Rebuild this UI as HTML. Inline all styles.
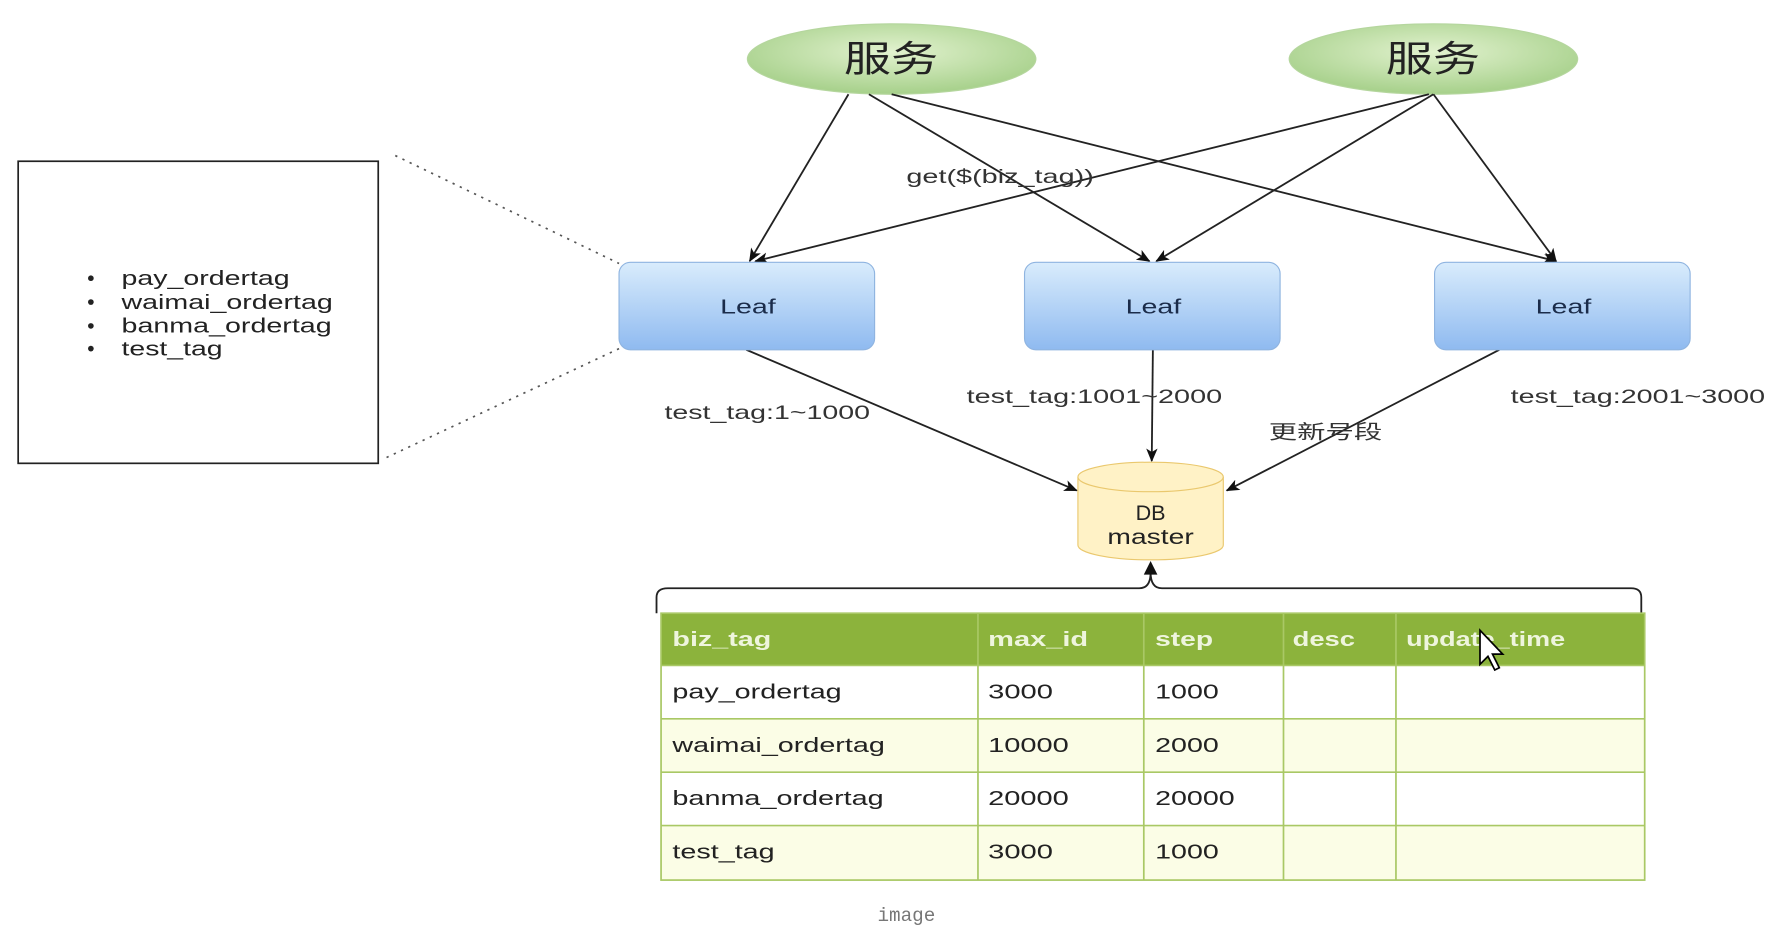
<!DOCTYPE html>
<html><head><meta charset="utf-8"><style>
html,body{margin:0;padding:0;background:#fff;width:1781px;height:938px;overflow:hidden}
svg{display:block}
text{font-family:"Liberation Sans","Noto Sans CJK SC",sans-serif}
</style></head><body>
<svg width="1781" height="938" viewBox="0 0 1568 826" preserveAspectRatio="none" xmlns="http://www.w3.org/2000/svg">
<defs>
<linearGradient id="g" x1="0" y1="0" x2="0" y2="1"><stop offset="0" stop-color="#d9ecfc"/><stop offset="1" stop-color="#8fbaf0"/></linearGradient>
<radialGradient id="e" cx="0.5" cy="0.4" r="0.6"><stop offset="0" stop-color="#e2f2cf"/><stop offset="1" stop-color="#a6d08a"/></radialGradient>
<marker id="a" markerWidth="12" markerHeight="10" refX="11" refY="5" orient="auto" markerUnits="userSpaceOnUse"><path d="M0,0 L12,5 L0,10 L3,5 z" fill="#111"/></marker>
</defs>
<ellipse cx="785" cy="52" rx="127" ry="31" fill="url(#e)" stroke="#b5d69e"/>
<ellipse cx="1262" cy="52" rx="127" ry="31" fill="url(#e)" stroke="#b5d69e"/>
<text x="743" y="63" font-size="32" textLength="83" lengthAdjust="spacingAndGlyphs" fill="#222">服务</text>
<text x="1220" y="63" font-size="32" textLength="83" lengthAdjust="spacingAndGlyphs" fill="#222">服务</text>
<g stroke="#222" stroke-width="1.6" fill="none" marker-end="url(#a)">
<line x1="747" y1="83" x2="660" y2="230"/>
<line x1="765" y1="83" x2="1012" y2="230"/>
<line x1="785" y1="83" x2="1370" y2="230"/>
<line x1="1258" y1="83" x2="665" y2="230"/>
<line x1="1262" y1="83" x2="1018" y2="230"/>
<line x1="1262" y1="83" x2="1370" y2="230"/>
<line x1="657" y1="308" x2="948" y2="432"/>
<line x1="1015" y1="308" x2="1014" y2="406"/>
<line x1="1320" y1="308" x2="1080" y2="432"/>
</g>
<g lengthAdjust="spacingAndGlyphs">
<text x="798" y="161" font-size="17" fill="#333" textLength="165" lengthAdjust="spacingAndGlyphs">get($(biz_tag))</text>
</g>
<rect x="16" y="142" width="317" height="266" fill="#fff" stroke="#222" stroke-width="1.5"/>
<g font-size="18" fill="#222">
<circle cx="80" cy="245" r="2.5"/><text x="107" y="251" textLength="148" lengthAdjust="spacingAndGlyphs">pay_ordertag</text>
<circle cx="80" cy="266" r="2.5"/><text x="107" y="272" textLength="186" lengthAdjust="spacingAndGlyphs">waimai_ordertag</text>
<circle cx="80" cy="287" r="2.5"/><text x="107" y="293" textLength="185" lengthAdjust="spacingAndGlyphs">banma_ordertag</text>
<circle cx="80" cy="307" r="2.5"/><text x="107" y="313" textLength="89" lengthAdjust="spacingAndGlyphs">test_tag</text>
</g>
<g stroke="#555" stroke-width="1.5" stroke-dasharray="2,5"><line x1="348" y1="137" x2="545" y2="232"/><line x1="545" y1="307" x2="340" y2="403"/></g>
<g fill="url(#g)" stroke="#8fb4e0">
<rect x="545" y="231" width="225" height="77" rx="10"/>
<rect x="902" y="231" width="225" height="77" rx="10"/>
<rect x="1263" y="231" width="225" height="77" rx="10"/>
</g>
<g font-size="18" fill="#1b2c4a">
<text x="634" y="276" textLength="49" lengthAdjust="spacingAndGlyphs">Leaf</text><text x="991" y="276" textLength="49" lengthAdjust="spacingAndGlyphs">Leaf</text><text x="1352" y="276" textLength="49" lengthAdjust="spacingAndGlyphs">Leaf</text>
</g>
<g font-size="17" fill="#333">
<text x="585" y="369" textLength="181" lengthAdjust="spacingAndGlyphs">test_tag:1~1000</text>
<text x="851" y="355" textLength="225" lengthAdjust="spacingAndGlyphs">test_tag:1001~2000</text>
<text x="1330" y="355" textLength="224" lengthAdjust="spacingAndGlyphs">test_tag:2001~3000</text>
<text x="1117" y="386" textLength="100" lengthAdjust="spacingAndGlyphs">更新号段</text>
</g>
<path d="M949,420 A64,13 0 0 1 1077,420 L1077,480 A64,13 0 0 1 949,480 Z" fill="#fff2c6" stroke="#eac86e"/>
<path d="M949,420 A64,13 0 0 0 1077,420" fill="none" stroke="#eac86e"/>
<text x="1013" y="458" font-size="19" text-anchor="middle" fill="#222">DB</text>
<text x="1013" y="479" font-size="19" text-anchor="middle" fill="#222" textLength="76" lengthAdjust="spacingAndGlyphs">master</text>
<path d="M578,540 L578,526 Q578,518 588,518 L1003,518 Q1013,518 1013,504 Q1013,518 1023,518 L1436,518 Q1445,518 1445,526 L1445,540" fill="none" stroke="#222" stroke-width="1.6"/>
<path d="M1007,506 L1013,494 L1019,506 Z" fill="#111"/>
<rect x="582" y="540" width="866" height="46" fill="#8cb33c"/>
<rect x="582" y="586" width="866" height="47" fill="#fff"/>
<rect x="582" y="633" width="866" height="47" fill="#fbfde6"/>
<rect x="582" y="680" width="866" height="47" fill="#fff"/>
<rect x="582" y="727" width="866" height="48" fill="#fbfde6"/>
<g stroke="#a9c865" stroke-width="1.5" fill="none">
<rect x="582" y="540" width="866" height="235"/>
<line x1="582" y1="586" x2="1448" y2="586"/><line x1="582" y1="633" x2="1448" y2="633"/><line x1="582" y1="680" x2="1448" y2="680"/><line x1="582" y1="727" x2="1448" y2="727"/>
<line x1="861" y1="540" x2="861" y2="775"/><line x1="1007" y1="540" x2="1007" y2="775"/><line x1="1130" y1="540" x2="1130" y2="775"/><line x1="1229" y1="540" x2="1229" y2="775"/>
</g>
<g font-size="18" font-weight="bold" fill="#eef5dd">
<text x="592" y="569" textLength="87" lengthAdjust="spacingAndGlyphs">biz_tag</text><text x="870" y="569" textLength="88" lengthAdjust="spacingAndGlyphs">max_id</text><text x="1017" y="569" textLength="51" lengthAdjust="spacingAndGlyphs">step</text><text x="1138" y="569" textLength="55" lengthAdjust="spacingAndGlyphs">desc</text><text x="1238" y="569" textLength="140" lengthAdjust="spacingAndGlyphs">update_time</text>
</g>
<g font-size="18" fill="#222">
<text x="592" y="615" textLength="149" lengthAdjust="spacingAndGlyphs">pay_ordertag</text><text x="870" y="615" textLength="57" lengthAdjust="spacingAndGlyphs">3000</text><text x="1017" y="615" textLength="56" lengthAdjust="spacingAndGlyphs">1000</text>
<text x="592" y="662" textLength="187" lengthAdjust="spacingAndGlyphs">waimai_ordertag</text><text x="870" y="662" textLength="71" lengthAdjust="spacingAndGlyphs">10000</text><text x="1017" y="662" textLength="56" lengthAdjust="spacingAndGlyphs">2000</text>
<text x="592" y="709" textLength="186" lengthAdjust="spacingAndGlyphs">banma_ordertag</text><text x="870" y="709" textLength="71" lengthAdjust="spacingAndGlyphs">20000</text><text x="1017" y="709" textLength="70" lengthAdjust="spacingAndGlyphs">20000</text>
<text x="592" y="756" textLength="90" lengthAdjust="spacingAndGlyphs">test_tag</text><text x="870" y="756" textLength="57" lengthAdjust="spacingAndGlyphs">3000</text><text x="1017" y="756" textLength="56" lengthAdjust="spacingAndGlyphs">1000</text>
</g>
<path d="M1303,555 L1303,585 L1310,578 L1316,590 L1320,588 L1314,576 L1323,576 Z" fill="#fff" stroke="#000" stroke-width="1.5"/>
<text x="798" y="811" font-size="17" text-anchor="middle" fill="#777" style="font-family:'Liberation Mono',monospace">image</text>
</svg>
</body></html>
